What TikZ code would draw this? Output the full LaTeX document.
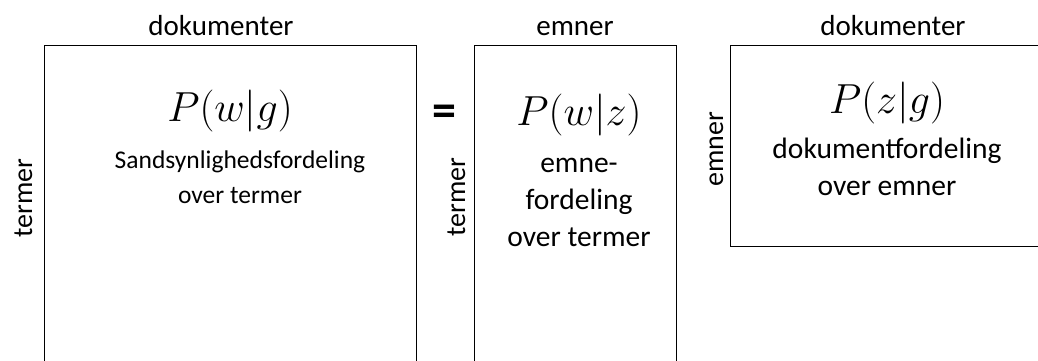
\documentclass[tikz,border=0pt]{standalone}
\usepackage{fix-cm}
\usepackage{fontspec}
\setmainfont{Carlito}
\usetikzlibrary{positioning,calc}

\begin{document}
\begin{tikzpicture}[
  x=1pt, y=-1pt,
  matbox/.style={draw=black, line width=1.3pt, inner sep=0pt, anchor=north west},
  dimlabel/.style={font=\fontsize{29}{34}\selectfont, anchor=base, inner sep=0pt},
  sidelabel/.style={dimlabel, font=\fontsize{28}{34}\selectfont, rotate=90},
  formula/.style={font=\fontsize{42}{48}\selectfont, inner sep=0pt},
  desc/.style={font=\fontsize{29.5}{37}\selectfont, align=center, anchor=base, inner sep=0pt}
]
\useasboundingbox (0,0) rectangle (1038,360);

% Matrices (open below the picture edge)
\node[matbox, minimum width=372, minimum height=340] (pwg) at (44,45) {};
\node[matbox, minimum width=202, minimum height=340] (pwz) at (474,45) {};
\node[matbox, minimum width=320, minimum height=201] (pzg) at (730,45) {};

% Dimension labels
\node[dimlabel] (pwgtop) at (221,35) {dokumenter};
\node[sidelabel] (pwgside) at (32,198) {termer};
\node[dimlabel] (pwztop) at (575,35) {emner};
\node[sidelabel] (pwzside) at (465,197) {termer};
\node[dimlabel] (pzgtop) at (893,35) {dokumenter};
\node[sidelabel] (pzgside) at (723,149) {emner};

% Equals sign
\node[font=\bfseries\fontsize{48}{54}\selectfont, inner sep=0pt, anchor=base] (eq) at (444,126) {=};

% Contents of the matrices
\node[formula] (fwg) at (230,111) {$P(w|g)$};
\node[desc, font=\fontsize{25.5}{35}\selectfont] (dwg) at (240,203) {Sandsynlighedsfordeling\\over termer};

\node[formula] (fwz) at (579,115) {$P(w|z)$};
\node[desc] (dwz) at (579,246) {emne-\\fordeling\\over termer};

\node[formula] (fzg) at (887,103) {$P(z|g)$};
\node[desc] (dzg) at (887,195) {dokumentfordeling\\over emner};

\end{tikzpicture}
\end{document}
